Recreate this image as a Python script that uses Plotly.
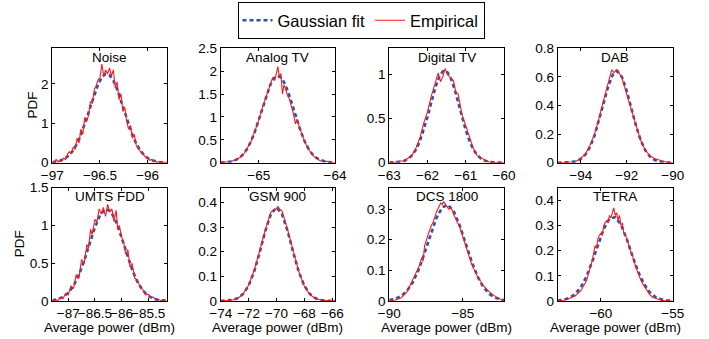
import plotly.graph_objects as go

W, H = 709, 339

# ---------------- data ----------------
titles = ["Noise", "Analog TV", "Digital TV", "DAB", "UMTS FDD", "GSM 900", "DCS 1800", "TETRA"]

noise_fit_x = [-97.00,-96.96,-96.92,-96.88,-96.84,-96.80,-96.76,-96.72,-96.68,-96.64,-96.60,-96.56,-96.52,-96.48,-96.44,
               -96.40,-96.36,-96.32,-96.28,-96.24,-96.20,-96.16,-96.12,-96.08,-96.04,-96.00,-95.96,-95.92,-95.88,-95.84,-95.80]
noise_fit = [0.013,0.026,0.049,0.089,0.155,0.255,0.397,0.59,0.832,1.116,1.42,1.72,1.98,2.17,2.25,
             2.22,2.085,1.86,1.57,1.27,0.97,0.705,0.487,0.32,0.2,0.118,0.067,0.036,0.018,0.009,0.005]
noise_emp_x = [-97.00,-96.98,-96.96,-96.94,-96.92,-96.90,-96.88,-96.86,-96.84,-96.82,
               -96.80,-96.78,-96.76,-96.74,-96.72,-96.70,-96.68,-96.66,-96.64,-96.62,
               -96.60,-96.58,-96.56,-96.54,-96.52,-96.50,-96.48,-96.46,-96.44,-96.42,
               -96.40,-96.38,-96.36,-96.34,-96.32,-96.30,-96.28,-96.26,-96.24,-96.22,
               -96.20,-96.18,-96.16,-96.14,-96.12,-96.10,-96.08,-96.06,-96.04,-96.02,
               -96.00,-95.98,-95.96,-95.94,-95.92,-95.90,-95.88,-95.86,-95.84,-95.82,-95.80]
noise_emp = [0.02,0.0,0.08,0.02,0.06,0.04,0.12,0.08,0.22,0.28,
             0.22,0.40,0.34,0.62,0.50,0.85,0.72,1.15,1.05,1.20,
             1.55,1.50,1.85,1.95,2.10,2.15,2.50,2.20,2.35,2.25,
             2.40,2.20,2.35,1.90,2.05,1.60,1.75,1.30,1.40,1.05,
             0.85,0.95,0.62,0.72,0.45,0.35,0.30,0.24,0.20,0.14,
             0.12,0.06,0.08,0.02,0.04,0.0,0.03,0.0,0.01,0.0,0.0]

analog_fit_x = [-65.50,-65.45,-65.40,-65.35,-65.30,-65.25,-65.20,-65.15,-65.10,-65.05,-65.00,-64.95,-64.90,-64.85,-64.80,
                -64.75,-64.70,-64.65,-64.60,-64.55,-64.50,-64.45,-64.40,-64.35,-64.30,-64.25,-64.20,-64.15,-64.10,-64.05,-64.00]
analog_fit = [0.003,0.007,0.016,0.032,0.062,0.112,0.191,0.31,0.474,0.685,0.935,1.207,1.47,1.70,1.85,
              1.9,1.85,1.70,1.47,1.207,0.935,0.685,0.474,0.31,0.191,0.112,0.062,0.032,0.016,0.007,0.003]
analog_emp_x = [-65.50,-65.45,-65.40,-65.35,-65.30,-65.25,-65.20,-65.15,-65.10,-65.05,-65.00,-64.95,-64.90,-64.85,
                -64.82,-64.79,-64.77,-64.75,-64.73,-64.71,-64.69,-64.67,-64.65,-64.62,-64.60,-64.55,-64.52,-64.50,
                -64.45,-64.40,-64.35,-64.30,-64.25,-64.20,-64.15,-64.10,-64.05,-64.00]
analog_emp = [0.0,0.01,0.01,0.03,0.07,0.11,0.18,0.32,0.47,0.70,0.93,1.22,1.48,1.72,
              1.85,1.80,1.92,2.10,1.88,1.95,1.50,1.70,1.62,1.45,1.40,1.10,0.85,0.95,
              0.70,0.47,0.30,0.18,0.10,0.05,0.02,0.03,0.0,0.0]

digital_fit_x = [-63.0,-62.9,-62.8,-62.7,-62.6,-62.5,-62.4,-62.3,-62.2,-62.1,-62.0,-61.9,-61.8,-61.7,-61.6,-61.5,
                 -61.4,-61.3,-61.2,-61.1,-61.0,-60.9,-60.8,-60.7,-60.6,-60.5,-60.4,-60.3,-60.2,-60.1,-60.0]
digital_fit = [0.001,0.002,0.005,0.011,0.023,0.046,0.086,0.15,0.243,0.369,0.521,0.687,0.846,0.971,1.04,1.04,
               0.971,0.846,0.687,0.521,0.369,0.243,0.15,0.086,0.046,0.023,0.011,0.005,0.002,0.001,0.0]
digital_emp_x = [-63.0,-62.9,-62.8,-62.7,-62.6,-62.5,-62.4,-62.3,-62.2,-62.1,-62.0,-61.9,-61.8,-61.72,-61.66,-61.60,
                 -61.54,-61.48,-61.40,-61.32,-61.26,-61.20,-61.1,-61.0,-60.9,-60.8,-60.7,-60.6,-60.5,-60.4,-60.3,-60.0]
digital_emp = [0.0,0.0,0.01,0.02,0.02,0.05,0.09,0.17,0.28,0.45,0.58,0.76,0.90,1.02,0.92,0.98,
               1.07,1.00,0.97,0.93,0.80,0.78,0.55,0.42,0.28,0.16,0.08,0.05,0.03,0.01,0.0,0.0]

dab_fit_x = [-95.0,-94.8,-94.6,-94.4,-94.2,-94.0,-93.8,-93.6,-93.4,-93.2,-93.0,-92.8,-92.6,
             -92.4,-92.2,-92.0,-91.8,-91.6,-91.4,-91.2,-91.0,-90.8,-90.6,-90.4,-90.2,-90.0]
dab_fit = [0.0,0.0,0.001,0.004,0.011,0.026,0.056,0.108,0.188,0.296,0.419,0.536,0.616,
           0.64,0.597,0.503,0.382,0.261,0.161,0.089,0.045,0.020,0.008,0.003,0.001,0.0]
dab_emp_x = [-95.0,-94.8,-94.6,-94.4,-94.2,-94.0,-93.8,-93.6,-93.4,-93.2,-93.0,-92.8,-92.65,-92.55,
             -92.45,-92.3,-92.2,-92.0,-91.8,-91.6,-91.4,-91.2,-91.0,-90.8,-90.6,-90.4,-90.2,-90.0]
dab_emp = [0.0,0.0,0.0,0.005,0.01,0.03,0.06,0.12,0.20,0.31,0.44,0.55,0.65,0.63,
           0.65,0.62,0.59,0.48,0.37,0.26,0.16,0.09,0.05,0.03,0.02,0.01,0.0,0.0]

umts_fit_x = [-87.3,-87.2,-87.1,-87.0,-86.9,-86.8,-86.7,-86.6,-86.5,-86.4,-86.3,
              -86.2,-86.1,-86.0,-85.9,-85.8,-85.7,-85.6,-85.5,-85.4,-85.3,-85.2,-85.15]
umts_fit = [0.009,0.023,0.053,0.108,0.202,0.345,0.535,0.756,0.973,1.141,1.22,
            1.184,1.048,0.846,0.621,0.416,0.253,0.140,0.071,0.033,0.014,0.005,0.003]
umts_emp_x = [-87.30,-87.25,-87.20,-87.15,-87.10,-87.05,-87.00,-86.95,-86.90,-86.85,-86.80,-86.75,
              -86.70,-86.65,-86.62,-86.58,-86.55,-86.50,-86.46,-86.42,-86.38,-86.34,-86.30,-86.26,
              -86.22,-86.18,-86.14,-86.10,-86.07,-86.04,-86.00,-85.96,-85.92,-85.88,-85.84,-85.80,
              -85.75,-85.70,-85.65,-85.60,-85.55,-85.50,-85.45,-85.40,-85.35,-85.30,-85.25,-85.15]
umts_emp = [0.00,0.02,0.00,0.05,0.03,0.10,0.08,0.20,0.17,0.35,0.30,0.55,
            0.50,0.75,0.70,0.95,0.88,1.08,1.05,1.22,1.15,1.24,1.12,1.28,
            1.18,1.22,1.05,1.20,0.95,1.00,0.85,0.78,0.62,0.68,0.45,0.50,
            0.30,0.28,0.18,0.15,0.08,0.09,0.04,0.05,0.01,0.02,0.00,0.00]

gsm_fit_x = [-74.0,-73.6,-73.2,-72.8,-72.4,-72.0,-71.6,-71.2,-70.8,-70.4,-70.0,
             -69.6,-69.2,-68.8,-68.4,-68.0,-67.6,-67.2,-66.8,-66.4,-66.0,-65.8]
gsm_fit = [0.0,0.001,0.004,0.011,0.028,0.062,0.119,0.198,0.284,0.353,0.38,
           0.353,0.284,0.198,0.119,0.062,0.028,0.011,0.004,0.001,0.0,0.0]
gsm_emp_x = [-74.0,-73.6,-73.2,-72.8,-72.4,-72.0,-71.6,-71.2,-70.8,-70.4,-70.2,-70.0,-69.9,
             -69.8,-69.6,-69.2,-68.8,-68.4,-68.0,-67.6,-67.2,-66.8,-66.4,-66.0,-65.8]
gsm_emp = [0.0,0.0,0.003,0.009,0.028,0.064,0.124,0.205,0.29,0.36,0.37,0.375,0.385,
           0.375,0.365,0.29,0.20,0.12,0.06,0.026,0.01,0.004,0.002,0.0,0.0]

dcs_fit_x = [-90.0,-89.6,-89.2,-88.8,-88.4,-88.0,-87.6,-87.2,-86.8,-86.4,-86.0,
             -85.6,-85.2,-84.8,-84.4,-84.0,-83.6,-83.2,-82.8,-82.4,-82.2]
dcs_fit = [0.003,0.007,0.016,0.033,0.061,0.103,0.157,0.216,0.271,0.306,0.314,
           0.291,0.245,0.187,0.129,0.080,0.045,0.023,0.011,0.005,0.003]
dcs_emp_x = [-90.0,-89.6,-89.2,-88.8,-88.4,-88.0,-87.8,-87.7,-87.6,-87.2,-87.0,-86.8,-86.6,-86.5,-86.4,
             -86.3,-86.1,-85.95,-85.8,-85.6,-85.2,-84.8,-84.5,-84.4,-84.2,-84.0,-83.6,-83.2,-82.8,-82.4,-82.2]
dcs_emp = [0.0,0.003,0.01,0.03,0.07,0.11,0.14,0.13,0.18,0.24,0.26,0.29,0.31,0.32,0.315,
           0.325,0.31,0.30,0.305,0.28,0.24,0.18,0.14,0.12,0.10,0.08,0.05,0.03,0.015,0.005,0.0]

tetra_fit_x = [-63.0,-62.6,-62.2,-61.8,-61.4,-61.0,-60.6,-60.2,-59.8,-59.4,-59.0,
               -58.6,-58.2,-57.8,-57.4,-57.0,-56.6,-56.2,-55.8,-55.4,-55.0]
tetra_fit = [0.002,0.005,0.012,0.027,0.054,0.097,0.156,0.224,0.286,0.327,0.333,
             0.303,0.247,0.179,0.116,0.068,0.035,0.016,0.007,0.002,0.001]
tetra_emp_x = [-63.0,-62.6,-62.2,-61.8,-61.4,-61.0,-60.8,-60.6,-60.4,-60.3,-60.2,-60.0,-59.9,-59.8,
               -59.6,-59.5,-59.4,-59.3,-59.2,-59.1,-59.0,-58.9,-58.8,-58.7,-58.6,-58.5,-58.4,-58.2,
               -58.0,-57.8,-57.6,-57.4,-57.2,-57.0,-56.8,-56.6,-56.4,-56.2,-55.8,-55.4,-55.0]
tetra_emp = [0.0,0.003,0.01,0.02,0.04,0.08,0.12,0.16,0.22,0.21,0.25,0.27,0.26,0.30,
             0.32,0.31,0.34,0.33,0.35,0.37,0.34,0.35,0.32,0.34,0.30,0.31,0.27,0.25,
             0.21,0.18,0.14,0.11,0.08,0.06,0.04,0.025,0.015,0.01,0.003,0.0,0.0]

# axis ranges and ticks
x_ranges = [[-97, -95.8], [-65.5, -64], [-63, -60], [-95, -90],
            [-87.3, -85.15], [-74, -65.8], [-90, -82.2], [-63, -55]]
y_ranges = [[0, 2.9], [0, 2.5], [0, 1.3], [0, 0.8],
            [0, 1.5], [0, 0.46], [0, 0.37], [0, 0.45]]
x_ticks = [[-97, -96.5, -96], [-65, -64], [-63, -62, -61, -60], [-94, -92, -90],
           [-87, -86.5, -86, -85.5], [-74, -72, -70, -68, -66], [-90, -85], [-60, -55]]
y_ticks = [[0, 1, 2], [0, 0.5, 1, 1.5, 2, 2.5], [0, 0.5, 1], [0, 0.2, 0.4, 0.6, 0.8],
           [0, 0.5, 1, 1.5], [0, 0.1, 0.2, 0.3, 0.4], [0, 0.1, 0.2, 0.3], [0, 0.1, 0.2, 0.3, 0.4]]

fits = [(noise_fit_x, noise_fit), (analog_fit_x, analog_fit), (digital_fit_x, digital_fit), (dab_fit_x, dab_fit),
        (umts_fit_x, umts_fit), (gsm_fit_x, gsm_fit), (dcs_fit_x, dcs_fit), (tetra_fit_x, tetra_fit)]
emps = [(noise_emp_x, noise_emp), (analog_emp_x, analog_emp), (digital_emp_x, digital_emp), (dab_emp_x, dab_emp),
        (umts_emp_x, umts_emp), (gsm_emp_x, gsm_emp), (dcs_emp_x, dcs_emp), (tetra_emp_x, tetra_emp)]

# ---------------- layout geometry (pixels) ----------------
col_px = [(52.3, 166.7), (220.7, 335.0), (389.3, 504.0), (557.7, 672.7)]
row_px = [(48.3, 162.7), (187.7, 301.0)]

FONT = "Liberation Sans, Arial, Helvetica, sans-serif"
BLUE = "#2f4fb0"
RED = "#ff1a1a"

fig = go.Figure()
layout = dict(width=W, height=H, margin=dict(l=0, r=0, t=0, b=0, autoexpand=False),
              paper_bgcolor="white", plot_bgcolor="white",
              font=dict(family=FONT, size=13.5, color="black"))
annotations = []

for i in range(8):
    r, c = divmod(i, 4)
    n = i + 1
    xa = "x" if n == 1 else f"x{n}"
    ya = "y" if n == 1 else f"y{n}"
    x0, x1 = col_px[c]
    ytop, ybot = row_px[r]
    xd = [x0 / W, x1 / W]
    yd = [1 - ybot / H, 1 - ytop / H]
    common = dict(showline=True, linecolor="black", linewidth=1, mirror="ticks",
                  ticks="inside", ticklen=3, tickwidth=1, tickcolor="black",
                  showgrid=False, zeroline=False, automargin=False,
                  tickfont=dict(size=13.5, family=FONT, color="black"))
    layout["xaxis" if n == 1 else f"xaxis{n}"] = dict(domain=xd, range=x_ranges[i], tickvals=x_ticks[i],
                                                     anchor=ya, tickangle=0, ticklabelstandoff=0, **common)
    layout["yaxis" if n == 1 else f"yaxis{n}"] = dict(domain=yd, range=y_ranges[i], tickvals=y_ticks[i],
                                                     anchor=xa, **common)
    fx, fy = fits[i]
    ex, ey = emps[i]
    fig.add_trace(go.Scatter(x=fx, y=fy, mode="lines", xaxis=xa, yaxis=ya,
                             line=dict(color=BLUE, width=2.6, dash="4px,3px"),
                             name="Gaussian fit", showlegend=(i == 0), legendgroup="fit"))
    fig.add_trace(go.Scatter(x=ex, y=ey, mode="lines", xaxis=xa, yaxis=ya,
                             line=dict(color=RED, width=1.1),
                             name="Empirical", showlegend=(i == 0), legendgroup="emp"))
    annotations.append(dict(text=titles[i], xref="paper", yref="paper",
                            x=(x0 + x1) / 2 / W, y=1 - (ytop + 9.2) / H,
                            xanchor="center", yanchor="middle", showarrow=False,
                            font=dict(size=13.5, family=FONT, color="black")))
    if r == 1:
        annotations.append(dict(text="Average power (dBm)", xref="paper", yref="paper",
                                x=(x0 + x1) / 2 / W, y=1 - 327 / H,
                                xanchor="center", yanchor="middle", showarrow=False,
                                font=dict(size=13.5, family=FONT, color="black")))

annotations.append(dict(text="PDF", xref="paper", yref="paper", x=32 / W, y=1 - 105.5 / H,
                        textangle=-90, xanchor="center", yanchor="middle", showarrow=False,
                        font=dict(size=13.5, family=FONT, color="black")))
annotations.append(dict(text="PDF", xref="paper", yref="paper", x=19 / W, y=1 - 244.3 / H,
                        textangle=-90, xanchor="center", yanchor="middle", showarrow=False,
                        font=dict(size=13.5, family=FONT, color="black")))

layout["annotations"] = annotations
layout["legend"] = dict(orientation="h", x=361 / W, y=1 - 2 / H, xanchor="center", yanchor="top",
                        bordercolor="black", borderwidth=1, bgcolor="white",
                        font=dict(size=16.5, family=FONT, color="black"),
                        itemwidth=30, tracegroupgap=0, itemclick=False)
layout["showlegend"] = True
fig.update_layout(**layout)

fig.write_html("out.html")
